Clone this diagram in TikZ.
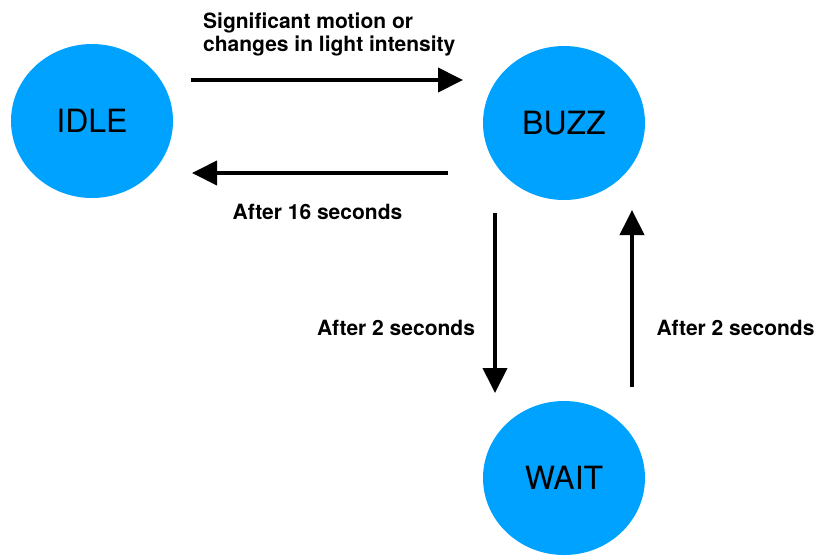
\documentclass[tikz,border=0pt]{standalone}
\usepackage{fontspec}
\setmainfont{TeX Gyre Heros}
\usepackage{xcolor}
\usetikzlibrary{arrows.meta, shapes.geometric, positioning}
\definecolor{stateblue}{RGB}{0,162,255}
\tikzset{
  state/.style={ellipse, fill=stateblue, minimum width=162pt, minimum height=154pt,
    inner sep=0pt, font=\fontsize{32}{36}\selectfont},
  trans/.style={line width=4pt, -{Triangle[length=25pt, width=24pt]}},
  lbl/.style={inner sep=0pt, font=\bfseries\fontsize{21}{23}\selectfont}
}

\begin{document}
\begin{tikzpicture}[x=1pt, y=-1pt]
  \useasboundingbox (0,0) rectangle (818,555);

  \node[state] (idle) at (92,121) {IDLE};
  \node[state] (buzz) at (564,123) {BUZZ};
  \node[state] (wait) at (564,478) {WAIT};

  % arrow ends, kept off the circles
  \coordinate (idleout) at (191,80);
  \coordinate (buzzin) at (463,80);
  \coordinate (buzzout) at (448,173);
  \coordinate (idlein) at (192,173);
  \coordinate (buzzdown) at (495,213);
  \coordinate (waitin) at (495,393);
  \coordinate (waitout) at (632,387);
  \coordinate (buzzup) at (632,210);

  \draw
  (idleout) edge[trans] (buzzin)
  (buzzout) edge[trans] (idlein)
  (buzzdown) edge[trans] (waitin)
  (waitout) edge[trans] (buzzup);

  \node[lbl, align=left, anchor=west] (motion) at (203,34.5) {Significant motion or\\changes in light intensity};
  \node[lbl, anchor=base] (after16) at (317.5,219.5) {After 16 seconds};
  \node[lbl, anchor=base] (afterdown) at (396,335.5) {After 2 seconds};
  \node[lbl, anchor=base] (afterup) at (735.5,335.5) {After 2 seconds};
\end{tikzpicture}
\end{document}
